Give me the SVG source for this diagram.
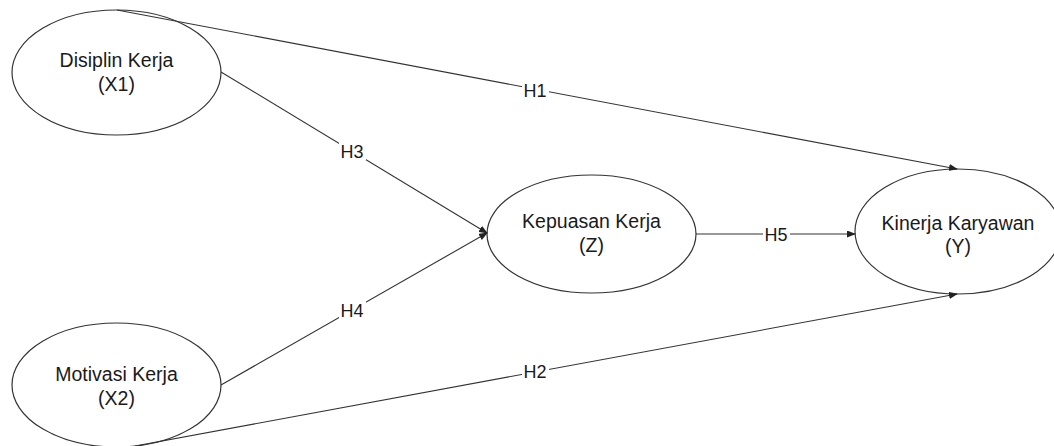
<svg xmlns="http://www.w3.org/2000/svg" width="1054" height="446" viewBox="0 0 1054 446">
<style>
.n{fill:#fff;stroke:#333;stroke-width:1.2}
.t{font-family:"Liberation Sans",Arial,sans-serif;font-size:19.5px;fill:#1a1a1a;text-anchor:middle}
.l{font-family:"Liberation Sans",Arial,sans-serif;font-size:18px;fill:#1a1a1a;text-anchor:middle}
.e{fill:none;stroke:#333;stroke-width:1.1;marker-end:url(#a)}
.bg{fill:#fff}
</style>
<defs>
<marker id="a" markerWidth="9" markerHeight="7" refX="8" refY="3.5" orient="auto" markerUnits="userSpaceOnUse">
<path d="M0,0 L9,3.5 L0,7 Z" fill="#222"/>
</marker>
</defs>
<rect width="1054" height="446" fill="#fff"/>
<g id="X1">
<ellipse class="n" cx="116.5" cy="72.5" rx="104.5" ry="62.5"/>
<text class="t" x="116.5" y="67">Disiplin Kerja</text>
<text class="t" x="116.5" y="91">(X1)</text>
</g>
<g id="X2">
<ellipse class="n" cx="116.5" cy="385" rx="104.5" ry="62"/>
<text class="t" x="116.5" y="381">Motivasi Kerja</text>
<text class="t" x="116.5" y="405">(X2)</text>
</g>
<g id="Z">
<ellipse class="n" cx="591.5" cy="234" rx="104.5" ry="59"/>
<text class="t" x="591.5" y="228">Kepuasan Kerja</text>
<text class="t" x="591.5" y="252">(Z)</text>
</g>
<g id="Y">
<ellipse class="n" cx="958" cy="231.5" rx="103" ry="62.5"/>
<text class="t" x="958" y="230">Kinerja Karyawan</text>
<text class="t" x="958" y="253">(Y)</text>
</g>
<g id="connectors">
<path class="e" d="M117,10 L957,169"/>
<path class="e" d="M135,446 L957,294"/>
<path class="e" d="M221,72 L487,233"/>
<path class="e" d="M221,385 L487,233"/>
<path class="e" d="M696,234 L855,234"/>
<rect class="bg" x="522" y="81" width="27" height="18"/>
<text class="l" x="535" y="97">H1</text>
<rect class="bg" x="522" y="363" width="27" height="18"/>
<text class="l" x="535" y="378">H2</text>
<rect class="bg" x="339" y="142" width="27" height="18"/>
<text class="l" x="352" y="158">H3</text>
<rect class="bg" x="339" y="301" width="27" height="18"/>
<text class="l" x="352" y="317">H4</text>
<rect class="bg" x="763" y="225" width="27" height="18"/>
<text class="l" x="776" y="241">H5</text>
</g>
</svg>
